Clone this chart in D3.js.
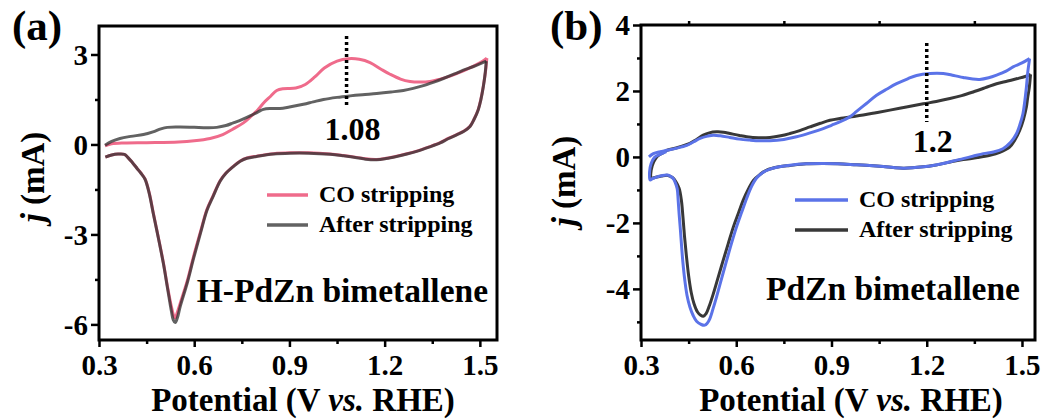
<!DOCTYPE html>
<html>
<head>
<meta charset="utf-8">
<script src="https://d3js.org/d3.v7.min.js"></script>
<style>
  body { margin: 0; background: #fff; }
  svg { display: block; }
  text { font-family: "Liberation Serif", "Times New Roman", serif; font-weight: bold; fill: #000; }
</style>
</head>
<body>
<div id="chart"></div>
<script>
// ---- data: [potential (V vs RHE), current (mA)] ----
// panel (a) H-PdZn bimetallene
const aCoAnodic = [[0.319,-0.05],[0.34,0.02],[0.38,0.05],[0.45,0.06],[0.55,0.08],[0.60,0.12],[0.65,0.2],[0.69,0.33],[0.72,0.5],[0.755,0.72],[0.78,0.95],[0.80,1.15],[0.82,1.4],[0.84,1.6],[0.86,1.8],[0.88,1.86],[0.92,1.88],[0.95,2.0],[0.98,2.25],[1.01,2.55],[1.05,2.78],[1.086,2.86],[1.12,2.84],[1.154,2.73],[1.19,2.5],[1.217,2.34],[1.25,2.18],[1.28,2.1],[1.31,2.08],[1.343,2.1],[1.375,2.18],[1.406,2.28],[1.44,2.42],[1.469,2.56],[1.50,2.72],[1.522,2.88]];
const aCoCathodic = [[1.522,2.88],[1.518,2.45],[1.511,1.95],[1.503,1.5],[1.495,1.17],[1.482,0.85],[1.469,0.61],[1.45,0.45],[1.427,0.33],[1.40,0.2],[1.375,0.06],[1.34,-0.08],[1.301,-0.22],[1.27,-0.31],[1.238,-0.39],[1.205,-0.46],[1.175,-0.5],[1.14,-0.48],[1.112,-0.43],[1.07,-0.37],[1.028,-0.32],[0.96,-0.28],[0.902,-0.28],[0.85,-0.31],[0.797,-0.39],[0.766,-0.45],[0.745,-0.55],[0.724,-0.72],[0.70,-0.95],[0.682,-1.2],[0.66,-1.7],[0.64,-2.17],[0.62,-2.9],[0.598,-3.73],[0.578,-4.55],[0.556,-5.29],[0.546,-5.62],[0.54,-5.79],[0.535,-5.7],[0.529,-5.45],[0.516,-4.75],[0.503,-3.95],[0.487,-3.1],[0.471,-2.28],[0.458,-1.6],[0.445,-1.15],[0.432,-0.95],[0.42,-0.8],[0.405,-0.6],[0.39,-0.42],[0.38,-0.33],[0.36,-0.32],[0.34,-0.35],[0.32,-0.42]];
const aAfterAnodic = [[0.319,-0.03],[0.34,0.1],[0.366,0.2],[0.40,0.27],[0.44,0.33],[0.47,0.42],[0.495,0.52],[0.515,0.57],[0.555,0.58],[0.60,0.57],[0.64,0.56],[0.671,0.57],[0.70,0.63],[0.723,0.72],[0.75,0.83],[0.776,0.95],[0.80,1.08],[0.818,1.17],[0.84,1.2],[0.87,1.2],[0.90,1.25],[0.944,1.34],[0.975,1.42],[1.007,1.5],[1.05,1.57],[1.091,1.62],[1.13,1.66],[1.175,1.7],[1.22,1.75],[1.259,1.8],[1.29,1.87],[1.322,1.96],[1.355,2.08],[1.385,2.2],[1.42,2.35],[1.448,2.48],[1.48,2.6],[1.52,2.78]];
const aAfterCathodic = [[1.52,2.78],[1.517,2.4],[1.511,1.93],[1.503,1.48],[1.495,1.16],[1.482,0.84],[1.469,0.6],[1.45,0.44],[1.427,0.32],[1.40,0.19],[1.375,0.05],[1.34,-0.09],[1.301,-0.23],[1.27,-0.32],[1.238,-0.4],[1.205,-0.47],[1.175,-0.51],[1.14,-0.49],[1.112,-0.44],[1.07,-0.38],[1.028,-0.33],[0.96,-0.29],[0.902,-0.29],[0.85,-0.32],[0.797,-0.4],[0.766,-0.46],[0.745,-0.56],[0.724,-0.73],[0.70,-0.96],[0.682,-1.22],[0.66,-1.72],[0.64,-2.2],[0.62,-2.95],[0.598,-3.8],[0.578,-4.62],[0.556,-5.4],[0.547,-5.78],[0.54,-5.94],[0.534,-5.85],[0.528,-5.55],[0.516,-4.8],[0.503,-3.98],[0.487,-3.12],[0.471,-2.3],[0.458,-1.62],[0.445,-1.16],[0.432,-0.96],[0.42,-0.8],[0.405,-0.6],[0.39,-0.42],[0.38,-0.33],[0.36,-0.32],[0.34,-0.35],[0.32,-0.42]];

// panel (b) PdZn bimetallene
const bCoAnodic = [[0.325,0.0],[0.339,0.1],[0.36,0.16],[0.381,0.2],[0.41,0.26],[0.444,0.35],[0.466,0.46],[0.486,0.56],[0.51,0.63],[0.528,0.66],[0.55,0.64],[0.58,0.59],[0.61,0.54],[0.643,0.51],[0.675,0.49],[0.706,0.49],[0.75,0.53],[0.79,0.61],[0.83,0.72],[0.874,0.86],[0.90,0.96],[0.926,1.06],[0.958,1.22],[0.979,1.38],[1.01,1.62],[1.042,1.87],[1.075,2.06],[1.105,2.22],[1.14,2.37],[1.168,2.47],[1.21,2.53],[1.252,2.53],[1.285,2.47],[1.315,2.41],[1.345,2.36],[1.367,2.35],[1.395,2.4],[1.42,2.48],[1.45,2.6],[1.472,2.73],[1.5,2.85],[1.524,2.98]];
const bCoCathodic = [[1.524,2.98],[1.518,2.55],[1.514,2.12],[1.509,1.7],[1.503,1.31],[1.494,1.0],[1.483,0.71],[1.465,0.45],[1.44,0.25],[1.41,0.15],[1.378,0.1],[1.345,0.02],[1.315,-0.05],[1.28,-0.13],[1.252,-0.2],[1.22,-0.26],[1.189,-0.3],[1.155,-0.33],[1.126,-0.34],[1.095,-0.32],[1.063,-0.29],[1.02,-0.26],[0.979,-0.24],[0.92,-0.21],[0.874,-0.2],[0.82,-0.21],[0.769,-0.25],[0.735,-0.3],[0.706,-0.37],[0.684,-0.47],[0.664,-0.64],[0.648,-0.9],[0.633,-1.25],[0.617,-1.68],[0.601,-2.12],[0.585,-2.62],[0.57,-3.13],[0.554,-3.68],[0.538,-4.24],[0.527,-4.6],[0.517,-4.9],[0.508,-5.05],[0.501,-5.1],[0.49,-5.08],[0.475,-4.98],[0.464,-4.8],[0.454,-4.55],[0.445,-4.2],[0.438,-3.74],[0.432,-3.2],[0.428,-2.73],[0.424,-2.2],[0.42,-1.72],[0.417,-1.3],[0.414,-0.96],[0.408,-0.78],[0.402,-0.66],[0.392,-0.58],[0.381,-0.55],[0.365,-0.57],[0.349,-0.61],[0.336,-0.66],[0.329,-0.7],[0.327,-0.45],[0.332,-0.2],[0.342,-0.02],[0.36,0.08],[0.38,0.16]];
const bAfterAnodic = [[0.33,-0.66],[0.332,-0.4],[0.34,-0.15],[0.352,0.02],[0.37,0.13],[0.381,0.2],[0.41,0.27],[0.454,0.41],[0.475,0.53],[0.496,0.66],[0.515,0.73],[0.538,0.76],[0.56,0.75],[0.58,0.71],[0.61,0.65],[0.633,0.61],[0.67,0.58],[0.706,0.59],[0.74,0.64],[0.769,0.71],[0.80,0.8],[0.832,0.91],[0.865,1.02],[0.895,1.11],[0.93,1.17],[0.958,1.21],[1.0,1.27],[1.04,1.34],[1.084,1.42],[1.14,1.52],[1.189,1.61],[1.23,1.68],[1.273,1.77],[1.31,1.86],[1.346,1.97],[1.385,2.1],[1.42,2.22],[1.455,2.3],[1.483,2.37],[1.51,2.44],[1.527,2.5]];
const bAfterCathodic = [[1.527,2.5],[1.523,2.1],[1.518,1.8],[1.514,1.52],[1.505,1.15],[1.493,0.81],[1.478,0.52],[1.461,0.3],[1.43,0.14],[1.399,0.05],[1.36,-0.02],[1.315,-0.08],[1.28,-0.14],[1.252,-0.2],[1.22,-0.26],[1.189,-0.3],[1.155,-0.33],[1.126,-0.34],[1.095,-0.32],[1.063,-0.29],[1.02,-0.26],[0.979,-0.24],[0.92,-0.21],[0.874,-0.2],[0.82,-0.21],[0.769,-0.26],[0.735,-0.3],[0.696,-0.4],[0.675,-0.53],[0.654,-0.71],[0.638,-0.98],[0.622,-1.31],[0.607,-1.7],[0.591,-2.12],[0.575,-2.62],[0.559,-3.13],[0.543,-3.65],[0.528,-4.14],[0.515,-4.52],[0.505,-4.75],[0.496,-4.83],[0.488,-4.8],[0.478,-4.7],[0.467,-4.45],[0.458,-4.1],[0.45,-3.6],[0.443,-3.0],[0.437,-2.4],[0.432,-1.8],[0.427,-1.3],[0.42,-0.95],[0.41,-0.75],[0.40,-0.63],[0.385,-0.56],[0.365,-0.58],[0.35,-0.61],[0.335,-0.65],[0.33,-0.66]];

// ticks and labels
const xTicks = [0.3, 0.6, 0.9, 1.2, 1.5];
const xMinor = [0.45, 0.75, 1.05, 1.35];
const aYTicks = [-6, -3, 0, 3];
const aYMinor = [-4.5, -1.5, 1.5];
const bYTicks = [-4, -2, 0, 2, 4];
const bYMinor = [-5, -3, -1, 1, 3];
const seriesNames = ["CO stripping", "After stripping"];
const aPeak = 1.08;
const bPeak = 1.2;

const W = 1045, H = 420;
const svg = d3.select("#chart").append("svg")
    .attr("width", W)
    .attr("height", H);
svg.append("rect").attr("width", W).attr("height", H).attr("fill", "#fff");

function drawPanel(p) {
    const x = d3.scaleLinear().domain(p.xDomain).range([p.left, p.right]);
    const y = d3.scaleLinear().domain(p.yDomain).range([p.bottom, p.top]);
    const g = svg.append("g");

    const line = d3.line()
        .x(d => x(d[0]))
        .y(d => y(d[1]))
        .curve(d3.curveCatmullRom.alpha(0.5));

    // curves: draw order matters (top one last)
    p.layers.forEach(s => {
        g.append("path")
            .datum(s.data)
            .attr("fill", "none")
            .attr("stroke", s.color)
            .attr("stroke-opacity", s.opacity || 1)
            .attr("stroke-width", 3)
            .attr("stroke-linejoin", "round")
            .attr("d", line);
    });

    // frame
    g.append("rect")
        .attr("x", p.left).attr("y", p.top)
        .attr("width", p.right - p.left).attr("height", p.bottom - p.top)
        .attr("fill", "none").attr("stroke", "#000").attr("stroke-width", 3);

    // axes
    const xAxis = g.append("g")
        .attr("transform", `translate(0,${p.bottom})`)
        .call(d3.axisBottom(x).tickValues(xTicks).tickSize(7).tickPadding(6)
            .tickFormat(d3.format(".1f")));
    const xMin = g.append("g")
        .attr("transform", `translate(0,${p.bottom})`)
        .call(d3.axisBottom(x).tickValues(xMinor).tickSize(4).tickFormat(""));
    const yAxis = g.append("g")
        .attr("transform", `translate(${p.left},0)`)
        .call(d3.axisLeft(y).tickValues(p.yTicks).tickSize(8).tickPadding(3)
            .tickFormat(d => String(d)));
    const yMin = g.append("g")
        .attr("transform", `translate(${p.left},0)`)
        .call(d3.axisLeft(y).tickValues(p.yMinor).tickSize(4).tickFormat(""));
    if (p.topMinor) {
        g.append("g")
            .attr("transform", `translate(0,${p.top})`)
            .call(d3.axisTop(x).tickValues(xMinor).tickSize(4).tickFormat(""))
            .call(a => a.select(".domain").remove())
            .selectAll("line").attr("stroke-width", 2.5);
    }
    [xAxis, xMin, yAxis, yMin].forEach(a => {
        a.select(".domain").remove();
        a.selectAll("line").attr("stroke", "#000").attr("stroke-width", 2.5);
        a.selectAll("text")
            .attr("font-family", null)
            .attr("font-size", null)
            .style("font-size", "29px")
            .attr("fill", "#000");
    });
    xAxis.selectAll("text").attr("dy", "0.75em");
    yAxis.selectAll("text").attr("dy", "0.34em");

    // peak marker
    g.append("line")
        .attr("x1", x(p.peak)).attr("x2", x(p.peak))
        .attr("y1", p.peakY1).attr("y2", p.peakY2)
        .attr("stroke", "#000").attr("stroke-width", 3.5)
        .attr("stroke-dasharray", "3,3");
    g.append("text")
        .attr("x", x(p.peak) + p.peakDx).attr("y", p.peakLabelY)
        .attr("text-anchor", "middle")
        .style("font-size", "32px")
        .text(String(p.peak));

    // legend
    seriesNames.forEach((name, i) => {
        const ly = p.legendY + i * 30;
        g.append("line")
            .attr("x1", p.legendX).attr("x2", p.legendX + p.legendLen)
            .attr("y1", ly).attr("y2", ly)
            .attr("stroke", p.legendColors[i]).attr("stroke-width", 3.5);
        g.append("text")
            .attr("x", p.legendX + p.legendLen + 11).attr("y", ly + 7)
            .style("font-size", "24px")
            .text(name);
    });

    // sample name
    g.append("text")
        .attr("x", p.nameRight).attr("y", p.nameY)
        .attr("text-anchor", "end")
        .style("font-size", "33.5px")
        .text(p.name);

    // axis titles
    const xt = g.append("text")
        .attr("x", p.xTitleX).attr("y", 411)
        .attr("text-anchor", "middle")
        .style("font-size", "33px");
    xt.append("tspan").text("Potential (V ");
    xt.append("tspan").style("font-style", "italic").text("vs.");
    xt.append("tspan").text(" RHE)");

    const yt = g.append("text")
        .attr("transform", `translate(${p.yTitleX},${p.yTitleY}) rotate(-90)`)
        .attr("text-anchor", "middle")
        .style("font-size", "33px");
    yt.append("tspan").style("font-style", "italic").text("j");
    yt.append("tspan").text(" (mA)");

    // panel letter
    g.append("text")
        .attr("x", p.letterX).attr("y", 40)
        .style("font-size", "43px")
        .text(p.letter);
}

drawPanel({
    left: 99, right: 497, top: 26, bottom: 340,
    xDomain: [0.3, 1.554], yDomain: [-6.52, 3.95],
    yTicks: aYTicks, yMinor: aYMinor,
    layers: [
        { data: aCoAnodic, color: "#ef6b8b" },
        { data: aCoCathodic, color: "#ef6b8b" },
        { data: aAfterAnodic, color: "#2e2e2e", opacity: 0.75 },
        { data: aAfterCathodic, color: "#2e2e2e", opacity: 0.75 }
    ],
    legendColors: ["#ef6b8b", "#626262"],
    legendX: 267, legendLen: 41, legendY: 195,
    peak: aPeak, peakY1: 36, peakY2: 106, peakDx: 6, peakLabelY: 140,
    name: "H-PdZn bimetallene", nameY: 302, nameRight: 488,
    xTitleX: 303, yTitleX: 44, yTitleY: 177,
    letter: "(a)", letterX: 12
});

drawPanel({
    left: 641, right: 1035, top: 25, bottom: 340,
    xDomain: [0.3, 1.541], yDomain: [-5.55, 4],
    yTicks: bYTicks, yMinor: bYMinor, topMinor: true,
    layers: [
        { data: bAfterAnodic, color: "#383838" },
        { data: bAfterCathodic, color: "#383838" },
        { data: bCoAnodic, color: "#5b73e8" },
        { data: bCoCathodic, color: "#5b73e8" }
    ],
    legendColors: ["#5b73e8", "#383838"],
    legendX: 795, legendLen: 53, legendY: 200,
    peak: bPeak, peakY1: 43, peakY2: 122, peakDx: 6, peakLabelY: 152,
    name: "PdZn bimetallene", nameY: 300, nameRight: 1020,
    xTitleX: 851, yTitleX: 575, yTitleY: 181,
    letter: "(b)", letterX: 550
});
</script>
</body>
</html>
